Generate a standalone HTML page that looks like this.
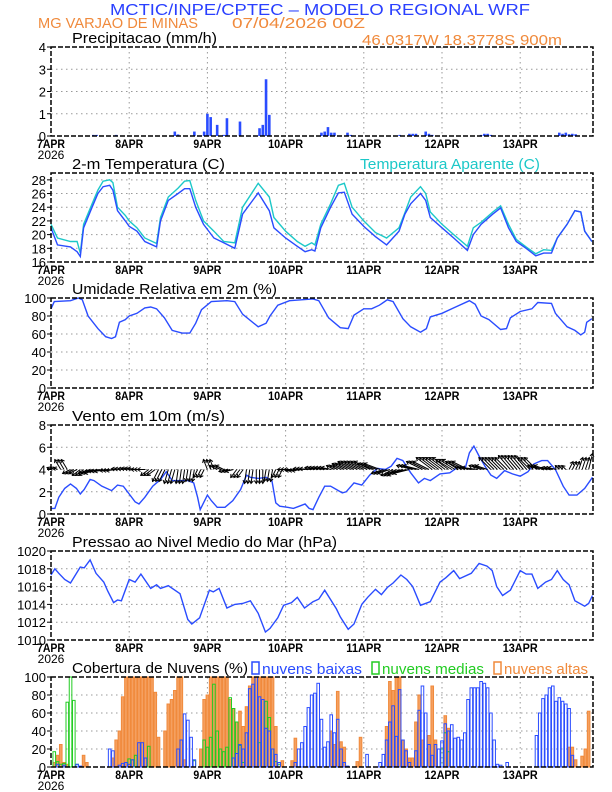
<!DOCTYPE html>
<html><head><meta charset="utf-8"><style>
html,body{margin:0;padding:0;background:#fff;}
svg{display:block;font-family:"Liberation Sans",sans-serif;}
</style></head><body>
<svg id="chart" width="612" height="792" viewBox="0 0 612 792" xmlns="http://www.w3.org/2000/svg">
<text x="110" y="15" font-size="16" fill="#2a40ff" textLength="420" lengthAdjust="spacingAndGlyphs">MCTIC/INPE/CPTEC – MODELO REGIONAL WRF</text>
<text x="38" y="28" font-size="15" fill="#f08a3c" textLength="160" lengthAdjust="spacingAndGlyphs">MG VARJAO DE MINAS</text>
<text x="232" y="28" font-size="15" fill="#f08a3c" textLength="133" lengthAdjust="spacingAndGlyphs">07/04/2026 00Z</text>
<text x="362" y="45" font-size="15" fill="#f08a3c" textLength="200" lengthAdjust="spacingAndGlyphs">46.0317W 18.3778S 900m</text>
<g id="plots"></g>
</svg>
<script>
// ---------- data ----------
const dayLabels = ["7APR","8APR","9APR","10APR","11APR","12APR","13APR"];
const precipHours = [13,14,20,38,39,44,47,48,49,51,53,54,58,64,65,66,67,83,84,85,86,87,91,92,107,110,111,112,115,116,117,132,133,134,135,156,157,158,159,160,161];
const precipVals  = [0.05,0.05,0.05,0.2,0.07,0.2,0.2,1.0,0.85,0.5,0.05,0.8,0.65,0.35,0.5,2.55,0.95,0.15,0.2,0.4,0.15,0.15,0.15,0.05,0.05,0.1,0.1,0.1,0.2,0.1,0.05,0.05,0.1,0.1,0.05,0.15,0.1,0.15,0.08,0.1,0.08];
const tempHours = [0,2,6,8,9,10,12.6,14.4,16,18,19,20.4,22.8,24,26.4,28.8,32.4,33.6,36,39,41,42.6,44.4,46.8,50,53,56.4,58.8,63.6,67,68.4,72,75.6,78,80,81,82.8,85.8,88.2,90,92.4,96,99.6,103,106.8,108.6,110.4,113.4,115,116.4,120,123.6,127.8,129.6,132,135.6,138,140.4,142.8,145.8,148.8,151.2,153.6,155.4,158.4,160.8,162.6,163.8,166];
const tempVals = [21,18.5,18.2,17.5,16.8,21,24,26,27,27.2,26.5,23.5,22,21.2,20.5,19,18.2,22,25,26,26.7,26.7,24,21.5,19.5,18.8,18,23,26.1,23.5,21,19.5,18.3,17.5,17.8,17.6,21,24,26.1,26.2,23,21.2,19.7,18.5,20.5,23,24.5,26,25,22.5,21,19.5,17.7,20,21.5,23,23.9,21,19,18,16.9,17.3,17.3,19.5,21.5,23.5,23.3,20.5,19];
const appTempVals = [21.5,19.5,19,19,17.3,21.5,24.5,26.5,27.8,28,27.6,24,22.8,22,21,19.5,18.7,22.5,25.5,26.8,27.8,27.9,25,22,20.5,19,18.8,24,27.5,25.5,22.5,20.5,19,18.3,18.8,18.5,21.5,24.5,27.2,27.5,24,22,20.3,19.5,21,23.2,25.5,27,26,23.3,21.5,20,18.3,21,21.8,23.3,24.2,21.5,19.3,18.2,17.2,17.8,17.7,19.5,21.5,23.5,23.3,20.5,19];
const rhHours = [0,1,6,8.4,9.6,11.4,14.4,16.8,18.6,19.8,21,22.8,24,26.4,28.8,30.6,32.4,34.8,37.2,40.2,42.6,44.4,46.2,49.2,54,56.4,58.8,63.6,66,67.2,69.6,73.2,80.4,82.2,85.2,88.8,91.2,93,96,98.4,100.8,103.2,105,108,110.4,113.4,115.2,116.4,120,123.6,128.4,130.2,132,134.4,138,139.8,141,144,147.6,149.4,153.6,154.8,158.4,160.8,162.6,163.8,164.4,166];
const rhVals = [88,96,97,100,98,80,66,57,55,57,73,76,80,83,89,90,88,78,64,61,61,72,87,96,97,96,82,68,72,80,92,97,99,97,78,67,66,81,88,88,92,98,96,77,68,62,66,79,83,89,97,93,80,76,65,66,78,85,88,95,94,83,68,64,59,62,73,77];
const windHours = [0,1.2,2.4,4.2,6,7.8,9,10.2,12,13.2,15.6,18.6,20.4,22.2,24,25.8,27,28.8,31.2,33.6,35.4,37.2,39.6,42,43.8,45,45.8,46.8,48,49.2,51,53.4,55.8,58.2,60,61.2,63.6,66,67.8,69,70.2,72.6,74.4,76.2,78,79.2,80.4,82.2,84,85.8,87.6,89.4,90.6,93,95.4,97.8,100.2,102.6,104.4,106.2,108,110.4,112.8,114.6,116.4,119.4,122.4,124.8,127.2,128.4,129.8,131.4,133.2,135,136.8,139.2,141.6,144,146.4,148.2,150.6,152.4,154.8,157.2,159,161.4,163.8,166.2];
const windSpeed = [0.5,0.5,1.5,2.3,2.7,2.3,1.8,2.2,3.1,3.0,2.5,2.1,2.6,2.5,1.8,1.1,0.9,1.5,2.5,3.1,3.8,3.0,3.0,3.0,2.8,1.5,0.4,1.0,1.7,1.2,0.6,0.6,1.2,2.2,3.5,3.3,3.2,3.3,3.0,1.0,0.7,0.6,0.5,0.7,0.9,0.5,0.4,1.5,2.5,2.5,2.2,1.9,2.0,2.8,2.6,3.5,4.1,4.0,4.3,5.0,4.8,3.7,2.8,3.2,3.0,3.6,3.7,4.2,4.2,5.5,6.1,5.2,4.3,3.5,3.2,3.9,3.6,3.4,3.8,4.5,4.8,4.8,4.0,2.5,1.7,1.7,2.3,3.3];
const vecU = [-1,-1.5,-2,-2,-3,-3,-2.5,-2,-2,-2,-2,-1.5,-1,-0.5,-0.5,-1,-1,-2,-2,-1.5,-0.5,0,-0.5,-1,-2,-2.5,-3,-2.5,-2.5,-2,-3,-4,-4,-4,-3,-3,-4,-4,-4,-4,-4,-4,-4,-4,-3,-3,-3,-3,-3,-3,-3,-2,-1,1,1,1];
const vecV = [0.5,2.5,-1,-1.5,-1,-0.5,-0.3,0.2,0.3,0,-1.5,-3,-3.5,-3.5,-3,-2,2.5,1,-0.5,-2,-3.5,-3.5,-3,-2,0,-0.3,0.2,0.5,0.5,1,1.5,2,2,1.5,-1,-1.5,-1,1,2,3,3,2.5,2,0.5,1,3,3,3.5,3.5,3,1,0.5,1,2,3,4];
const presHours = [0,1.2,2.4,4.2,6,9,10.2,12,13.8,16.2,17.4,19.2,20.4,21.6,24,25.8,27.6,30.6,32.4,33.6,36,39.6,42,43.2,45.6,48.6,49.8,51.6,54,56.4,58.8,61.2,63.6,65.8,67.2,69.6,71.4,73.8,75.6,77.8,80.4,82.2,84,87.6,88.8,91.2,93,95.4,97.2,99.6,101.4,103.2,105,107.4,109.2,111,113.4,116.4,119.4,121.2,123.6,125.4,129,131.4,133.8,135.4,136.8,138.6,141,144,145.8,147.6,149.4,151.8,153.6,155.4,157.2,159,160.8,163.8,165,166.2];
const presVals = [1017.3,1018,1017.5,1016.8,1016.4,1018.2,1018.1,1019,1017.5,1016.5,1015.5,1014.2,1014.5,1014.4,1016.8,1016.5,1017.4,1015.8,1016.2,1015.8,1016.1,1015.2,1012.3,1011.8,1012.5,1015.6,1015.4,1015.8,1013.6,1014,1014.1,1014.4,1013,1010.9,1011.3,1012.5,1013.9,1014.2,1014.8,1013.6,1014.3,1014.6,1015.6,1013.5,1012.6,1011.2,1011.8,1014,1014.8,1015.7,1015.1,1015.9,1016.4,1017.3,1016.8,1016,1013.9,1014.3,1016.5,1017,1017.8,1016.9,1017.5,1018.6,1018.3,1017.8,1016,1015,1015.6,1017.8,1017.4,1017.4,1015.8,1016.5,1016.8,1017.8,1016.8,1016.2,1014.4,1013.8,1014.1,1015];
const highHours = [1,2,3,4,5,10,11,19,20,21,22,23,24,25,26,27,28,29,30,31,32,33,35,36,37,38,39,40,41,46,47,48,49,50,51,52,53,54,55,56,57,58,59,60,61,62,63,64,65,66,67,68,69,71,74,75,86,87,88,89,90,94,95,103,104,105,106,107,108,109,110,111,112,113,114,116,117,118,121,122,159,160,161,163,164,165];
const highVals  = [5,13,25,5,3,13,5,10,30,40,78,100,100,100,100,100,100,100,100,100,83,33,40,70,75,85,100,100,8,20,75,80,100,100,100,100,100,100,75,65,50,62,45,67,90,100,100,100,100,100,100,100,45,7,7,32,40,25,84,28,22,6,33,45,95,85,100,100,30,20,10,10,50,80,30,35,90,30,57,43,22,22,8,12,20,62];
const midHours = [1,2,3,4,5,6,7,8,24,25,26,30,44,47,48,49,50,51,52,53,54,55,56,57,58,59,64,66,67,68,69,70,120,121,122];
const midVals  = [17,6,3,4,72,100,74,3,9,8,13,23,7,30,22,33,92,40,20,17,22,77,65,50,24,5,27,73,55,20,6,3,20,38,17];
const lowHours = [2,4,8,9,18,19,21,22,23,24,25,27,28,29,39,40,41,42,43,44,56,57,58,59,60,61,62,63,64,65,66,67,68,69,70,75,76,77,78,79,80,81,82,83,84,85,86,87,88,89,90,91,97,101,102,103,104,105,106,107,108,109,110,112,113,114,115,116,117,118,119,120,121,122,123,124,125,126,127,128,129,130,131,132,133,134,135,136,137,138,140,149,150,151,152,153,154,155,156,157,158,159,160];
const lowVals  = [3,2,3,1,20,18,2,4,5,3,8,27,27,10,20,30,59,52,33,8,10,15,25,20,38,87,92,100,78,75,43,40,20,14,5,5,20,27,45,66,80,82,93,53,22,28,58,38,53,20,5,1,14,5,14,30,50,68,34,86,30,18,5,18,63,90,60,25,13,25,20,29,48,40,47,32,33,30,38,75,88,88,88,95,93,88,60,30,3,2,5,35,60,76,80,88,90,73,77,73,70,65,13];

// ---------- layout ----------
const X0 = 51, X1 = 593, PXH = 78.2/24;
const xH = h => X0 + h*PXH;
const NS = "http://www.w3.org/2000/svg";
const root = document.getElementById('plots');
function el(tag, attrs, parent){ const e=document.createElementNS(NS,tag); for(const k in attrs) e.setAttribute(k,attrs[k]); (parent||root).appendChild(e); return e; }
const BLUE="#2a4cff", CYAN="#1cc8c8", ORANGE="#f08a3c", GREEN="#22cc22";

function panel(name, top, bot, ymin, ymax, ticks, title, titleW){
  const g = el('g',{});
  
  
  const yv = v => bot - (v-ymin)/(ymax-ymin)*(bot-top);
  ticks.forEach(t=>{
    if(t>ymin && t<ymax){ const l=el('line',{x1:X0,x2:X1,y1:yv(t),y2:yv(t),stroke:"#999","stroke-width":1,"stroke-dasharray":"1.5,3.5"},g);
        }
    const tl=el('line',{x1:X0-4,x2:X0,y1:yv(t),y2:yv(t),stroke:"#000","stroke-width":1},g);
     
    const tx=el('text',{x:X0-5,y:yv(t)+5,"font-size":13,"text-anchor":"end",fill:"#000"},g);
     
    tx.textContent=t;
  });
  dayLabels.forEach((d,i)=>{
    const x=xH(i*24);
    if(i>0){ const l=el('line',{x1:x,x2:x,y1:top,y2:bot,stroke:"#999","stroke-width":1,"stroke-dasharray":"1.5,3.5"},g);
        }
    const tx=el('text',{x:x,y:bot+12,"font-size":12,"font-weight":"600","text-anchor":"middle",fill:"#000",textLength:d.length*7,lengthAdjust:"spacingAndGlyphs"},g);
     
    tx.textContent=d;
  });
  const yr=el('text',{x:X0,y:bot+23,"font-size":12,"text-anchor":"middle",fill:"#000"},g);
   
  yr.textContent="2026";
  const tt=el('text',{x:72,y:top-4,"font-size":15,fill:"#000",textLength:titleW,lengthAdjust:"spacingAndGlyphs"},g);
   
  tt.textContent=title;
  return {g,yv,top,bot};
}
function border(p){
  const b=el('rect',{x:X0,y:p.top,width:X1-X0,height:p.bot-p.top,fill:"none",stroke:"#000","stroke-width":1.5,"stroke-dasharray":"5,2"},p.g);
   
}
function line(p, hs, vs, color, name){
  const d = hs.map((h,i)=>(i?'L':'M')+xH(h).toFixed(1)+','+p.yv(vs[i]).toFixed(1)).join('');
  const pa=el('path',{d:d,fill:"none",stroke:color,"stroke-width":1.4},p.g);
   
}

// Precip
const pP = panel('precipitation',47,136,0,4,[0,1,2,3,4],"Precipitacao (mm/h)",145);
precipHours.forEach((h,i)=>{
  const r=el('rect',{x:xH(h)-1.3,y:pP.yv(precipVals[i]),width:2.6,height:pP.bot-pP.yv(precipVals[i]),fill:BLUE},pP.g);
   
});
border(pP);

// Temperature
const pT = panel('temperature',173,262,16,29,[16,18,20,22,24,26,28],"2-m Temperatura (C)",153);
const at=el('text',{x:360,y:169,"font-size":15,fill:CYAN,textLength:180,lengthAdjust:"spacingAndGlyphs"},pT.g);
 
at.textContent="Temperatura Aparente (C)";
line(pT,tempHours,appTempVals,CYAN,'apparent-temperature-line');
line(pT,tempHours,tempVals,BLUE,'temperature-line');
border(pT);

// Humidity
const pH = panel('humidity',298,388,0,100,[0,20,40,60,80,100],"Umidade Relativa em 2m (%)",205);
line(pH,rhHours,rhVals,BLUE,'humidity-line');
border(pH);

// Wind
const pW = panel('wind',425,514,0,8,[0,2,4,6,8],"Vento em 10m (m/s)",153);
line(pW,windHours,windSpeed,BLUE,'wind-speed-line');
const y4 = pW.yv(4);
vecU.forEach((u,i)=>{
  const v=vecV[i];
  for(let k=0;k<3;k++){
    const h=i*3+k; if(xH(h)>X1-2) continue;
    const x0=xH(h), x1=x0+u*4, y1=y4-v*4;
    const len=Math.hypot(x1-x0,y1-y4)||1, ux=(x1-x0)/len, uy=(y1-y4)/len;
    const a=el('path',{d:`M${x0},${y4}L${x1},${y1}M${x1-ux*3-uy*2},${y1-uy*3+ux*2}L${x1},${y1}L${x1-ux*3+uy*2},${y1-uy*3-ux*2}`,stroke:"#000","stroke-width":1,fill:"none"},pW.g);
     
  }
});
border(pW);

// Pressure
const pR = panel('pressure',551,640,1010,1020,[1010,1012,1014,1016,1018,1020],"Pressao ao Nivel Medio do Mar (hPa)",265);
line(pR,presHours,presVals,BLUE,'pressure-line');
border(pR);

// Clouds
const pC = panel('clouds',677,767,0,100,[0,20,40,60,80,100],"Cobertura de Nuvens (%)",176);
function bars(hs,vs,fill,stroke,name){
  hs.forEach((h,i)=>{
    const y=pC.yv(vs[i]);
    const r=el('rect',{x:xH(h)-1.3,y:y,width:2.6,height:pC.bot-y,fill:fill,stroke:stroke,"stroke-width":1},pC.g);
     
  });
}
bars(highHours,highVals,"#f5a060",ORANGE,'high-cloud-bar');
bars(midHours,midVals,"none",GREEN,'mid-cloud-bar');
bars(lowHours,lowVals,"none",BLUE,'low-cloud-bar');
[[252,"nuvens baixas",BLUE,110,'low-cloud-legend'],[372,"nuvens medias",GREEN,112,'mid-cloud-legend'],[494,"nuvens altas",ORANGE,94,'high-cloud-legend']].forEach(([x,t,c,w,n])=>{
  const r=el('rect',{x:x,y:662,width:7,height:12,fill:"none",stroke:c,"stroke-width":1.5},pC.g);
   
  const tx=el('text',{x:x+10,y:674,"font-size":15,fill:c,textLength:w-10,lengthAdjust:"spacingAndGlyphs"},pC.g);
   
  tx.textContent=t;
});
border(pC);
</script>
</body></html>
